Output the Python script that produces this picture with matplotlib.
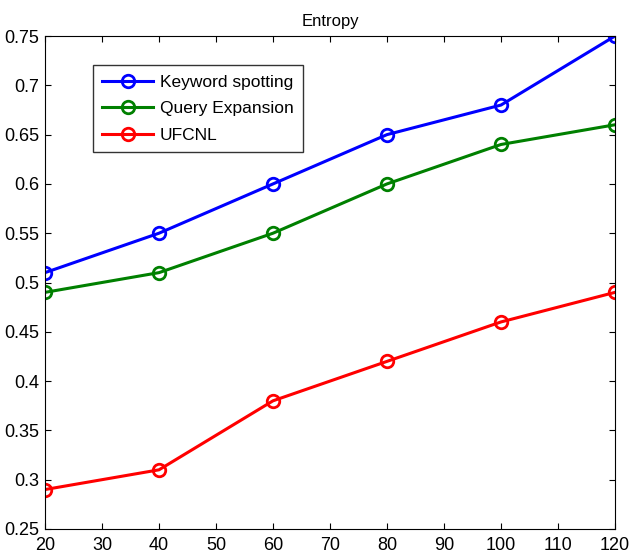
import matplotlib
matplotlib.use('Agg')
import matplotlib.pyplot as plt

plt.rcParams['font.family'] = ['Liberation Sans', 'DejaVu Sans']

x = [20, 40, 60, 80, 100, 120]
keyword = [0.51, 0.55, 0.60, 0.65, 0.68, 0.75]
query = [0.49, 0.51, 0.55, 0.60, 0.64, 0.66]
ufcnl = [0.29, 0.31, 0.38, 0.42, 0.46, 0.49]

fig = plt.figure(figsize=(6.3, 5.56), dpi=100)
ax = fig.add_axes([0.0714, 0.0486, 0.9048, 0.8866])

ax.plot(x, keyword, '-o', color='#0000ff', lw=2.2, ms=9, mfc='none', mew=2, label='Keyword spotting')
ax.plot(x, query, '-o', color='#008000', lw=2.2, ms=9, mfc='none', mew=2, label='Query Expansion')
ax.plot(x, ufcnl, '-o', color='#ff0000', lw=2.2, ms=9, mfc='none', mew=2, label='UFCNL')

ax.set_xlim(20, 120)
ax.set_ylim(0.25, 0.75)
ax.set_xticks(range(20, 121, 10))
ax.set_yticks([0.25, 0.3, 0.35, 0.4, 0.45, 0.5, 0.55, 0.6, 0.65, 0.7, 0.75])
ax.set_yticklabels(['0.25', '0.3', '0.35', '0.4', '0.45', '0.5', '0.55', '0.6', '0.65', '0.7', '0.75'])
ax.tick_params(direction='in', top=True, right=True, labelsize=13, length=4)
ax.tick_params(axis='x', pad=6)
ax.tick_params(axis='y', pad=4)
ax.set_title('Entropy', fontsize=12, pad=7)

leg = ax.legend(loc='upper left', bbox_to_anchor=(0.084, 0.941), fontsize=12.5,
                frameon=True, fancybox=False, edgecolor='black', handlelength=2.9,
                handletextpad=0.4, borderpad=0.55, labelspacing=0.65, borderaxespad=0)
leg.get_frame().set_linewidth(1)

fig.savefig('out.png', dpi=100)
